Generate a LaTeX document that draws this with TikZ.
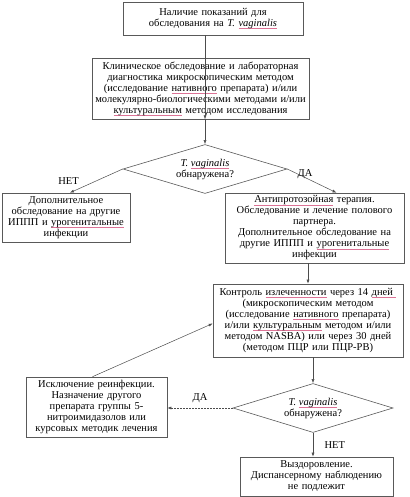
\documentclass[tikz,border=0pt]{standalone}
\usepackage{fontspec}
\setmainfont{Liberation Serif}
\usetikzlibrary{shapes.geometric,arrows.meta}

% spell-check underline, as in the source document
\newcommand\spell[1]{\leavevmode\setbox0\hbox{#1}\rlap{\textcolor{purple!55}{\rule[-0.45ex]{\wd0}{0.5pt}}}\box0\relax}

\begin{document}
\begin{tikzpicture}[x=1pt, y=-1pt]
    \tikzstyle{every node}=[font=\fontsize{10.5}{11}\selectfont, text=black]
    \tikzstyle{box}=[rectangle, draw=black!65, line width=0.6pt, align=center, inner sep=1pt]
    \tikzstyle{check}=[diamond, draw=black!65, line width=0.6pt, align=center, inner sep=0pt, aspect=3.3]
    \tikzstyle{line}=[draw=black!70, line width=0.5pt, -{Latex[length=4pt,width=3pt]}]
    \useasboundingbox (0,0) rectangle (409,497);
    % boxes
    \node [box, text width=178pt, minimum height=33pt] (start) at (213,18.5) {Наличие показаний для\\обследования на \textit{T. \spell{vaginalis}}};
    \node [box, text width=215pt, minimum height=61pt] (exam) at (200.5,88.5) {Клиническое обследование и лабораторная\\диагностика микроскопическим методом\\(исследование \spell{нативного} препарата) и/или\\молекулярно-биологическими методами и/или\\\spell{культуральным} методом исследования};
    \node [check, minimum width=164pt, minimum height=49pt] (found1) at (205,169) {\textit{T. \spell{vaginalis}}\\обнаружена?};
    \node [box, text width=126pt, minimum height=49pt] (extra) at (66,217.5) {Дополнительное\\обследование на другие\\ИППП и \spell{урогенитальные}\\инфекции};
    \node [box, text width=177pt, minimum height=70pt] (therapy) at (314.5,228) {\spell{Антипротозойная} терапия.\\Обследование и лечение полового\\партнера.\\Дополнительное обследование на\\другие ИППП и \spell{урогенитальные}\\инфекции};
    \node [box, text width=188pt, minimum height=73pt] (control) at (308,320.5) {Контроль \spell{излеченности} через 14 \spell{дней~}\\(микроскопическим методом\\(исследование \spell{нативного} препарата)\\и/или \spell{культуральным} методом и/или\\методом NASBA) или через 30 дней\\(методом ПЦР или ПЦР-РВ)};
    \node [check, minimum width=160pt, minimum height=49pt] (found2) at (313,408) {\textit{T. \spell{vaginalis}}\\обнаружена?};
    \node [box, text width=139pt, minimum height=60pt] (reinf) at (96.5,407) {Исключение реинфекции.\\Назначение другого\\препарата группы 5-\\нитроимидазолов или\\курсовых методик лечения};
    \node [box, text width=151pt, minimum height=39pt] (cured) at (316.5,476.5) {Выздоровление.\\Диспансерному наблюдению\\не подлежит};
    % connectors
    \draw [line] (start.south -| found1.north) -- (exam.south -| found1.north);
    \draw [line] (exam.south -| found1.north) -- (found1.north);
    \draw [line] (found1.west) -- ([xshift=4pt]extra.north) node [pos=0.5, left=14pt] {НЕТ};
    \draw [line] (found1.east) -- ([xshift=22pt]therapy.north) node [pos=0.36, above=-5pt] {ДА};
    \draw [line] (therapy.south -| control.north) -- (control.north);
    \draw [line] (control.south -| found2.north) -- (found2.north);
    \draw [line, densely dotted] (found2.west) -- (reinf.east |- found2.west) node [midway, above=2pt] {ДА};
    \draw [line] (found2.south) -- (found2.south |- cured.north) node [midway, right=8pt] {НЕТ};
    \draw [line] ([xshift=-4pt]reinf.north) -- ([yshift=-3pt]control.west);
\end{tikzpicture}
\end{document}
